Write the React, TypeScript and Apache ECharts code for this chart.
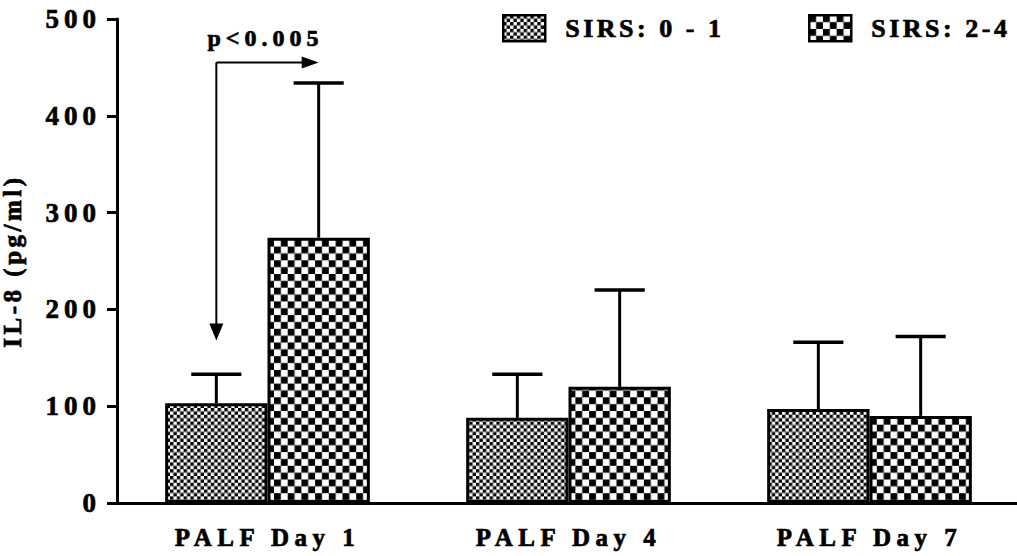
import React, { useEffect, useRef } from "react";
import * as echarts from "echarts";

const CATEGORIES = ["PALF Day 1", "PALF Day 4", "PALF Day 7"];
const SERIES_NAMES = ["SIRS: 0 - 1", "SIRS: 2-4"];
const SIRS01_MEAN = [103, 88, 97];
const SIRS01_UPPER = [133, 133, 166];
const SIRS24_MEAN = [274, 120, 90];
const SIRS24_UPPER = [434, 220, 172];
const Y_MIN = 0;
const Y_MAX = 500;
const Y_INTERVAL = 100;
// annotation (data coordinates)
const ANNOT_TEXT = "p<0.005";
const ANNOT_TOP = 455;
const ANNOT_BOTTOM = 168;
const ANNOT_TEXT_Y = 480;

const BAR_FRAC = 0.34;
const FONT = "'Liberation Serif', 'Times New Roman', serif";
const HEAVY = { textBorderColor: "#000", textBorderWidth: 0.7 };

function checker(cell: number) {
  const k = 8;
  const n = Math.round(cell * 2 * k);
  const c = document.createElement("canvas");
  c.width = n;
  c.height = n;
  const ctx = c.getContext("2d")!;
  ctx.fillStyle = "#fff";
  ctx.fillRect(0, 0, n, n);
  ctx.fillStyle = "#000";
  ctx.fillRect(0, 0, n / 2, n / 2);
  ctx.fillRect(n / 2, n / 2, n / 2, n / 2);
  return { image: c, repeat: "repeat", imageWidth: cell * 2, imageHeight: cell * 2 } as any;
}

function letterSpacingFor(s: string): number {
  if (/^\d+$/.test(s)) return 5;
  if (s.startsWith("PALF")) return 5.5;
  if (s.startsWith("SIRS")) return 3.5;
  if (s.startsWith("p<")) return 5;
  if (s.startsWith("IL")) return 3.5;
  return 0;
}

export default function App() {
  const ref = useRef<HTMLDivElement>(null);
  useEffect(() => {
    if (!ref.current) return;
    const chart = echarts.init(ref.current, null, { renderer: "svg" });
    const dense = checker(3.4);
    const coarse = checker(6.85);

    const makeErr = (sign: number, means: number[], uppers: number[]) => ({
      type: "custom",
      silent: true,
      z: 5,
      data: CATEGORIES.map((_, i) => [i, means[i], uppers[i]]),
      renderItem: (params: any, api: any) => {
        const band = api.size([1, 0])[0];
        const bw = band * BAR_FRAC;
        const base = api.coord([api.value(0), api.value(1)]);
        const top = api.coord([api.value(0), api.value(2)]);
        const x = base[0] + (sign * bw) / 2;
        const cap = bw * 0.49;
        const st = { stroke: "#000", lineWidth: 3 };
        return {
          type: "group",
          children: [
            { type: "line", shape: { x1: x, y1: base[1], x2: x, y2: top[1] }, style: st },
            { type: "line", shape: { x1: x - cap / 2, y1: top[1], x2: x + cap / 2, y2: top[1] }, style: { stroke: "#000", lineWidth: 3.5 } },
          ],
        };
      },
    });

    const annotation = {
      type: "custom",
      silent: true,
      z: 6,
      data: [[0, ANNOT_TOP]],
      renderItem: (params: any, api: any) => {
        const band = api.size([1, 0])[0];
        const bw = band * BAR_FRAC;
        const c = api.coord([api.value(0), api.value(1)]);
        const xl = c[0] - bw / 2;
        const xr = c[0] + bw / 2;
        const yt = c[1];
        const yb = api.coord([0, ANNOT_BOTTOM])[1];
        const ty = api.coord([0, ANNOT_TEXT_Y])[1];
        const st = { stroke: "#000", lineWidth: 2 };
        return {
          type: "group",
          children: [
            { type: "line", shape: { x1: xl, y1: yt, x2: xl, y2: yb - 16 }, style: st },
            { type: "polygon", shape: { points: [[xl - 7, yb - 17], [xl + 7, yb - 17], [xl, yb]] }, style: { fill: "#000" } },
            { type: "line", shape: { x1: xl, y1: yt, x2: xr - 16, y2: yt }, style: st },
            { type: "polygon", shape: { points: [[xr - 17, yt - 6], [xr - 17, yt + 6], [xr, yt]] }, style: { fill: "#000" } },
            {
              type: "text",
              x: c[0] - 2,
              y: ty,
              style: {
                text: ANNOT_TEXT,
                font: `bold 24px ${FONT}`,
                fill: "#000",
                stroke: "#000",
                lineWidth: 0.7,
                align: "center",
                verticalAlign: "middle",
              },
            },
          ],
        };
      },
    };

    const legendBase = {
      orient: "horizontal",
      top: 14,
      padding: 0,
      itemWidth: 42,
      itemHeight: 26,
      icon: "rect",
      itemStyle: { borderColor: "#000", borderWidth: 2.5 },
      textStyle: { fontFamily: FONT, fontWeight: "bold", fontSize: 26, color: "#000", padding: [0, 0, 0, 15], ...HEAVY },
      selectedMode: false,
    };

    chart.setOption({
      animation: false,
      backgroundColor: "#fff",
      grid: { left: 117, top: 19, width: 903, height: 484, outerBoundsMode: "none", containLabel: false },
      legend: [
        { ...legendBase, left: 502, data: [SERIES_NAMES[0]] },
        { ...legendBase, left: 808, data: [SERIES_NAMES[1]] },
      ],
      xAxis: {
        type: "category",
        data: CATEGORIES,
        axisLine: { lineStyle: { color: "#000", width: 3 } },
        axisTick: { alignWithLabel: true, length: 10, lineStyle: { color: "#000", width: 2.5 } },
        axisLabel: { color: "#000", fontFamily: FONT, fontWeight: "bold", fontSize: 25, margin: 22, ...HEAVY },
      },
      yAxis: {
        type: "value",
        min: Y_MIN,
        max: Y_MAX,
        interval: Y_INTERVAL,
        name: "IL-8 (pg/ml)",
        nameLocation: "middle",
        nameGap: 92,
        nameTextStyle: { color: "#000", fontFamily: FONT, fontWeight: "bold", fontSize: 25, ...HEAVY },
        axisLine: { show: true, lineStyle: { color: "#000", width: 3 } },
        axisTick: { show: true, length: 10, lineStyle: { color: "#000", width: 3 } },
        splitLine: { show: false },
        axisLabel: { color: "#000", fontFamily: FONT, fontWeight: "bold", fontSize: 27, margin: 16, ...HEAVY },
      },
      series: [
        {
          type: "bar",
          name: SERIES_NAMES[0],
          data: SIRS01_MEAN,
          barWidth: `${BAR_FRAC * 100}%`,
          barGap: "0%",
          itemStyle: { color: dense, borderColor: "#000", borderWidth: 3 },
        },
        {
          type: "bar",
          name: SERIES_NAMES[1],
          data: SIRS24_MEAN,
          barWidth: `${BAR_FRAC * 100}%`,
          barGap: "0%",
          itemStyle: { color: coarse, borderColor: "#000", borderWidth: 3 },
        },
        makeErr(-1, SIRS01_MEAN, SIRS01_UPPER),
        makeErr(1, SIRS24_MEAN, SIRS24_UPPER),
        annotation,
      ],
    } as any);

    const applySpacing = () => {
      const svg = ref.current?.querySelector("svg");
      if (!svg) return;
      svg.querySelectorAll("text").forEach((t) => {
        const s = (t.textContent || "").trim();
        const ls = letterSpacingFor(s);
        if (!ls) return;
        t.setAttribute("letter-spacing", String(ls));
      });
    };
    applySpacing();
    chart.on("finished", applySpacing);

    return () => chart.dispose();
  }, []);

  return (
    <div
      ref={ref}
      style={{ position: "fixed", left: 0, top: 0, width: 1017, height: 556, background: "#fff" }}
    />
  );
}
